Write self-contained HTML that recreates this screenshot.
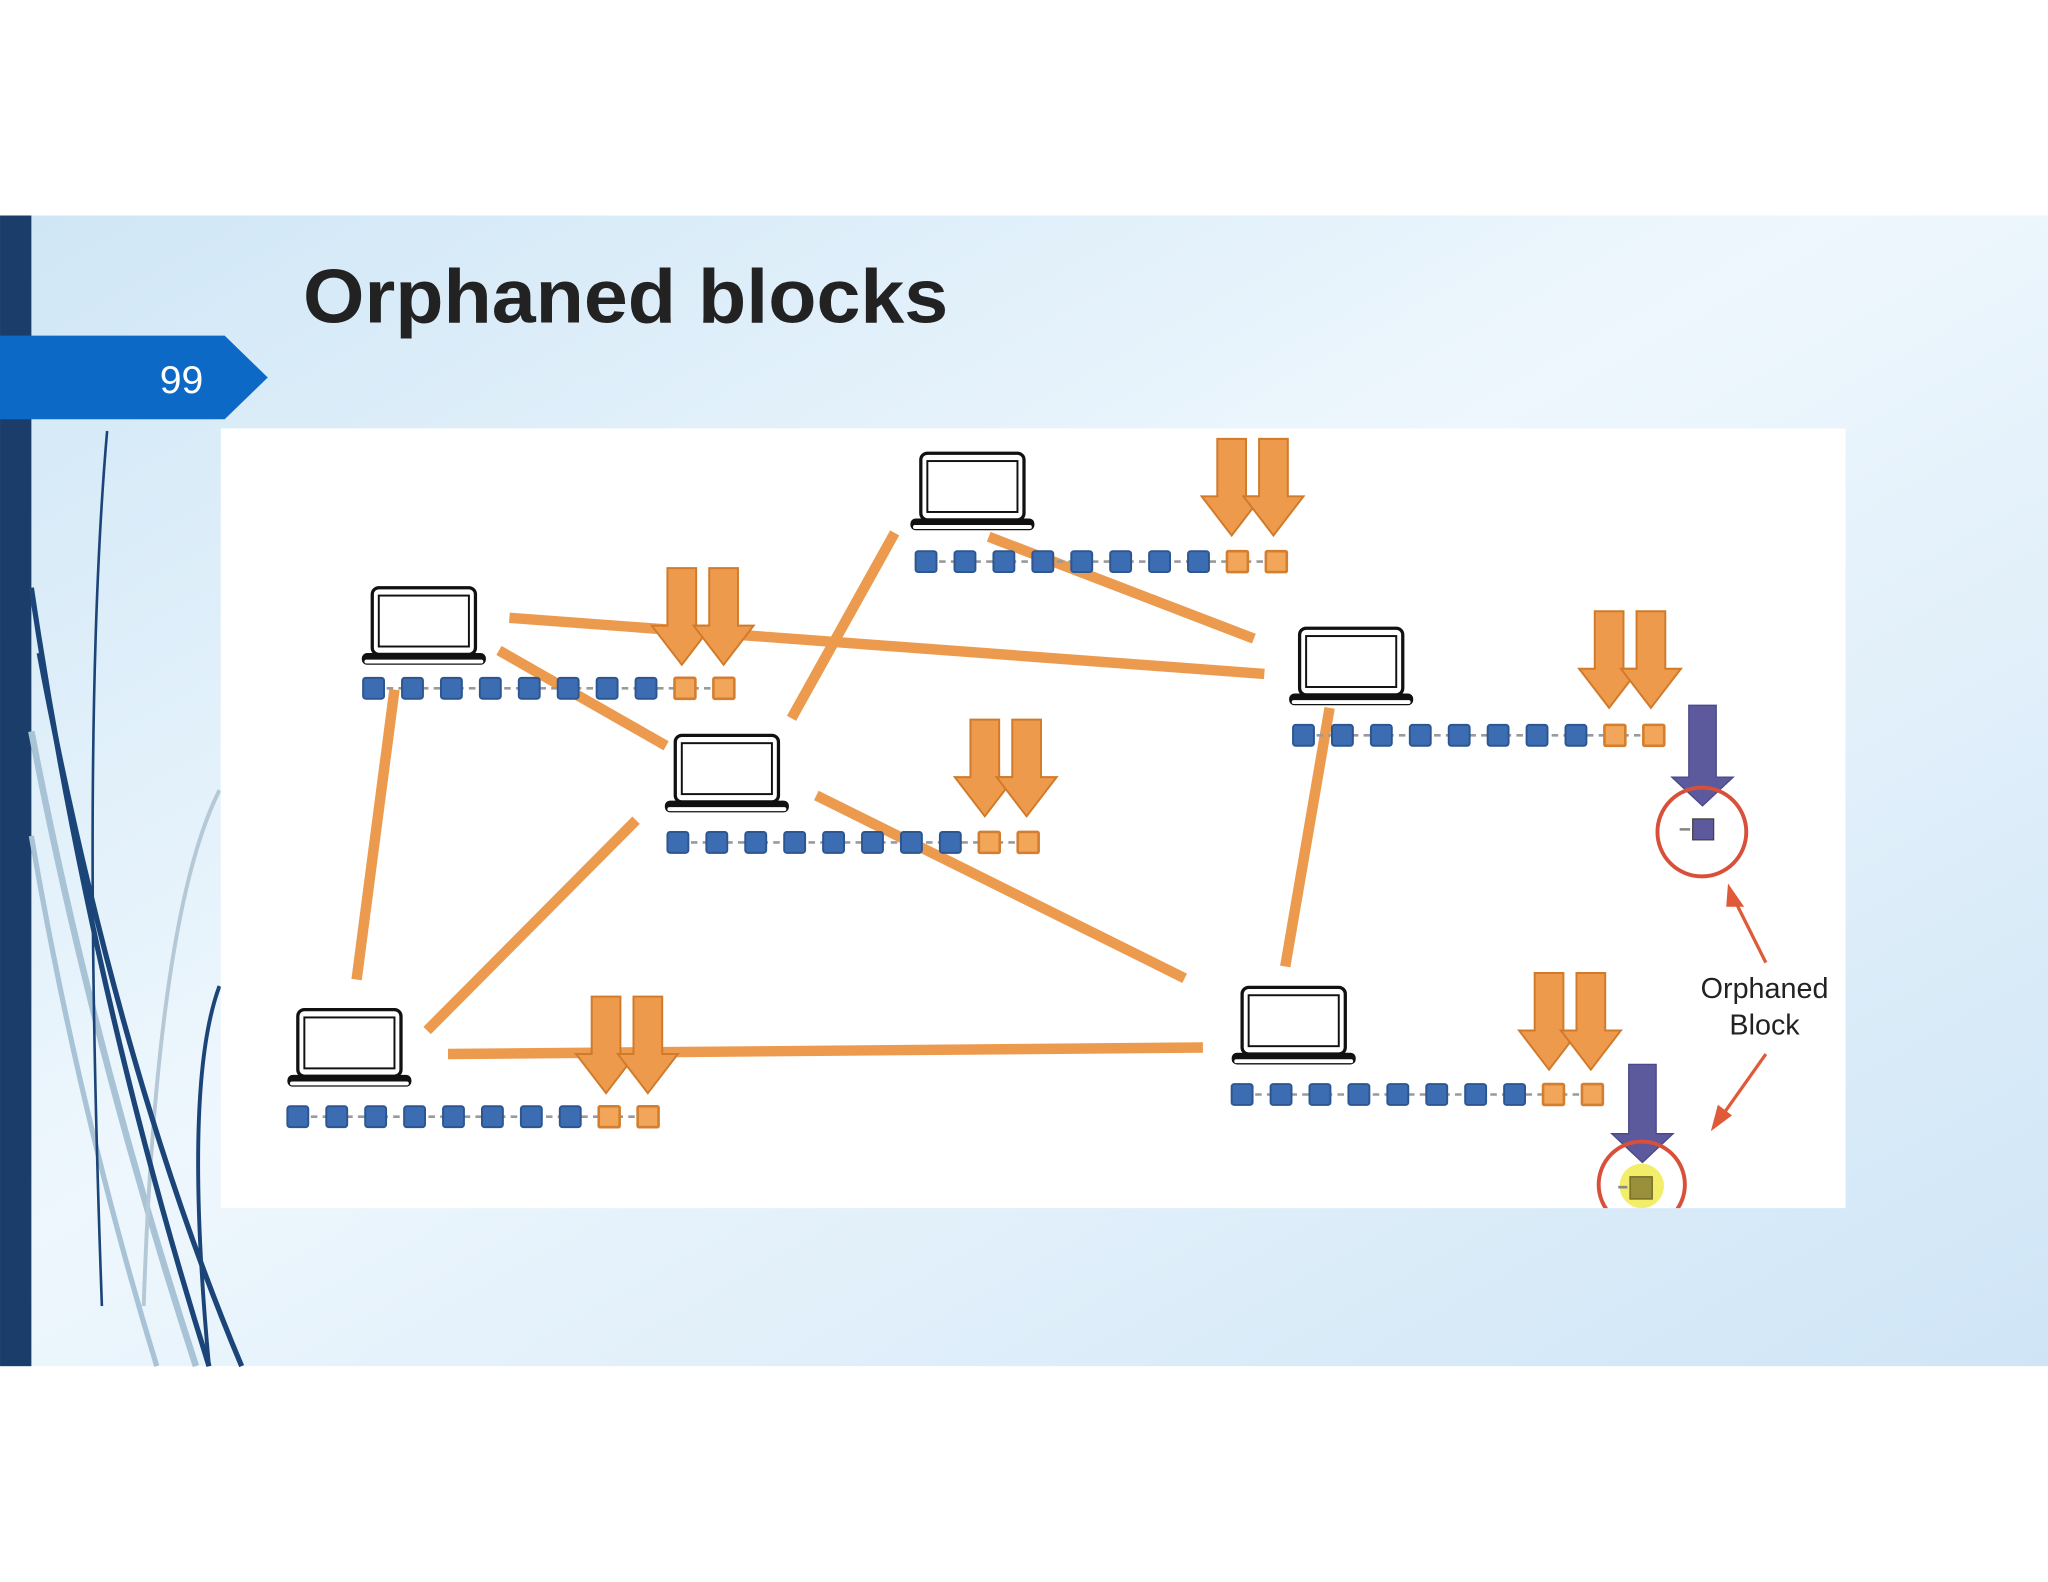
<!DOCTYPE html>
<html><head><meta charset="utf-8"><style>
html,body{margin:0;padding:0;background:#fff;}
svg{display:block;}
</style></head><body>
<svg width="2048" height="1582" viewBox="0 0 1568 1211.25" xmlns="http://www.w3.org/2000/svg">
<defs>
<linearGradient id="bg" x1="0" y1="0" x2="1" y2="1">
<stop offset="0" stop-color="#cfe6f6"/><stop offset="0.45" stop-color="#eef7fd"/><stop offset="1" stop-color="#cfe5f6"/>
</linearGradient>
<clipPath id="imgclip"><rect x="169" y="328" width="1244" height="597"/></clipPath>
<g id="laptop">
<rect x="8" y="0" width="79" height="51" rx="5" fill="#fff" stroke="#111" stroke-width="2.5"/>
<rect x="13" y="6" width="69" height="39" fill="#fff" stroke="#111" stroke-width="1.5"/>
<rect x="0" y="50" width="95" height="9" rx="4" fill="#111"/>
<rect x="2" y="55" width="91" height="3" rx="1.5" fill="#fff"/>
</g>
<g id="chain">
<line x1="0" y1="8" x2="283" y2="8" stroke="#9a9a9a" stroke-width="2" stroke-dasharray="5,4"/>
<g fill="#3c6db2" stroke="#2c5690" stroke-width="1.5">
<rect x="0" y="0" width="16" height="16" rx="2"/><rect x="29.8" y="0" width="16" height="16" rx="2"/>
<rect x="59.6" y="0" width="16" height="16" rx="2"/><rect x="89.4" y="0" width="16" height="16" rx="2"/>
<rect x="119.2" y="0" width="16" height="16" rx="2"/><rect x="149" y="0" width="16" height="16" rx="2"/>
<rect x="178.8" y="0" width="16" height="16" rx="2"/><rect x="208.6" y="0" width="16" height="16" rx="2"/>
</g>
<g fill="#f2a65a" stroke="#d47e30" stroke-width="2">
<rect x="238.4" y="0" width="16" height="16" rx="1"/><rect x="268.2" y="0" width="16" height="16" rx="1"/>
</g>
</g>
<g id="arr2" fill="#ee9a4c" stroke="#d07a2a" stroke-width="1.5">
<path d="M0 0 H22 V44 H34 L11 74 L-12 44 H0 Z"/>
<path d="M32 0 H54 V44 H66 L43 74 L20 44 H32 Z"/>
</g>
</defs>
<rect x="0" y="165" width="1568" height="881" fill="url(#bg)"/>
<rect x="0" y="165" width="24" height="881" fill="#1b3d6a"/>
<g fill="none">
<path d="M24 560 Q70 800 150 1046" stroke="#a9c3d6" stroke-width="5"/>
<path d="M24 640 Q60 850 120 1046" stroke="#a9c3d6" stroke-width="4"/>
<path d="M168 605 Q120 700 110 1000" stroke="#b5c8d6" stroke-width="3"/>
<path d="M82 330 Q62 560 78 1000" stroke="#1b4478" stroke-width="2"/>
<path d="M24 450 Q70 760 160 1046" stroke="#1b4478" stroke-width="4"/>
<path d="M30 500 Q90 820 185 1046" stroke="#1b4478" stroke-width="4"/>
<path d="M168 755 Q140 830 160 1046" stroke="#1b4478" stroke-width="3"/>
</g>
<path d="M0 257 H172 L205 289 L172 321 H0 Z" fill="#0c6ac6"/>
<text x="139" y="301" font-family="Liberation Sans, sans-serif" font-size="30" fill="#fff" text-anchor="middle">99</text>
<text x="232" y="247" font-family="Liberation Sans, sans-serif" font-weight="bold" font-size="58" fill="#222" textLength="494" lengthAdjust="spacingAndGlyphs">Orphaned blocks</text>
<rect x="169" y="328" width="1244" height="597" fill="#fff"/>
<g clip-path="url(#imgclip)">
<g stroke="#ec9a4e" stroke-width="8" stroke-linecap="butt">
<line x1="390" y1="473" x2="968" y2="516"/>
<line x1="757" y1="411" x2="960" y2="489"/>
<line x1="685" y1="408" x2="606" y2="550"/>
<line x1="382" y1="498" x2="510" y2="571"/>
<line x1="302" y1="528" x2="273" y2="750"/>
<line x1="487" y1="628" x2="327" y2="789"/>
<line x1="625" y1="609" x2="907" y2="749"/>
<line x1="343" y1="807" x2="921" y2="802"/>
<line x1="1018" y1="542" x2="984" y2="740"/>
</g>
<use href="#laptop" x="697" y="347"/>
<use href="#laptop" x="277" y="450"/>
<use href="#laptop" x="509" y="563"/>
<use href="#laptop" x="987" y="481"/>
<use href="#laptop" x="220" y="773"/>
<use href="#laptop" x="943" y="756"/>
<use href="#chain" x="701" y="422"/>
<use href="#chain" x="278" y="519"/>
<use href="#chain" x="511" y="637"/>
<use href="#chain" x="990" y="555"/>
<use href="#chain" x="220" y="847"/>
<use href="#chain" x="943" y="830"/>
<use href="#arr2" x="932" y="336"/>
<use href="#arr2" x="511" y="435"/>
<use href="#arr2" x="743" y="551"/>
<use href="#arr2" x="1221" y="468"/>
<use href="#arr2" x="453" y="763"/>
<use href="#arr2" x="1175" y="745"/>
<path d="M1293 540 H1314 V595 H1327 L1303.5 617 L1280 595 H1293 Z" fill="#5c5a9c" stroke="#4a4888" stroke-width="1"/>
<path d="M1247 815 H1268 V868 H1281 L1257.5 890 L1234 868 H1247 Z" fill="#5c5a9c" stroke="#4a4888" stroke-width="1"/>
<circle cx="1303" cy="637" r="34" fill="none" stroke="#d9503a" stroke-width="3"/>
<line x1="1286" y1="635" x2="1294" y2="635" stroke="#888" stroke-width="2"/>
<rect x="1296" y="627" width="16" height="16" fill="#5c5a9c" stroke="#444" stroke-width="1"/>
<circle cx="1257" cy="908" r="17" fill="#f3ee6a"/>
<circle cx="1257" cy="907" r="33" fill="none" stroke="#d9503a" stroke-width="3"/>
<line x1="1239" y1="909" x2="1246" y2="909" stroke="#888" stroke-width="2"/>
<rect x="1248" y="901" width="17" height="17" fill="#9a8f3a" stroke="#6f6620" stroke-width="1"/>
<g stroke="#e05a3a" stroke-width="2.5" fill="#e05a3a">
<line x1="1352" y1="737" x2="1328" y2="689"/>
<path d="M1324 680 L1333 693 L1323 693 Z"/>
<line x1="1352" y1="807" x2="1318" y2="855"/>
<path d="M1312 863 L1316 848 L1324 854 Z"/>
</g>
<text x="1351" y="764" font-family="Liberation Sans, sans-serif" font-size="22" fill="#222" text-anchor="middle">Orphaned</text>
<text x="1351" y="792" font-family="Liberation Sans, sans-serif" font-size="22" fill="#222" text-anchor="middle">Block</text>
</g>
</svg>
</body></html>
